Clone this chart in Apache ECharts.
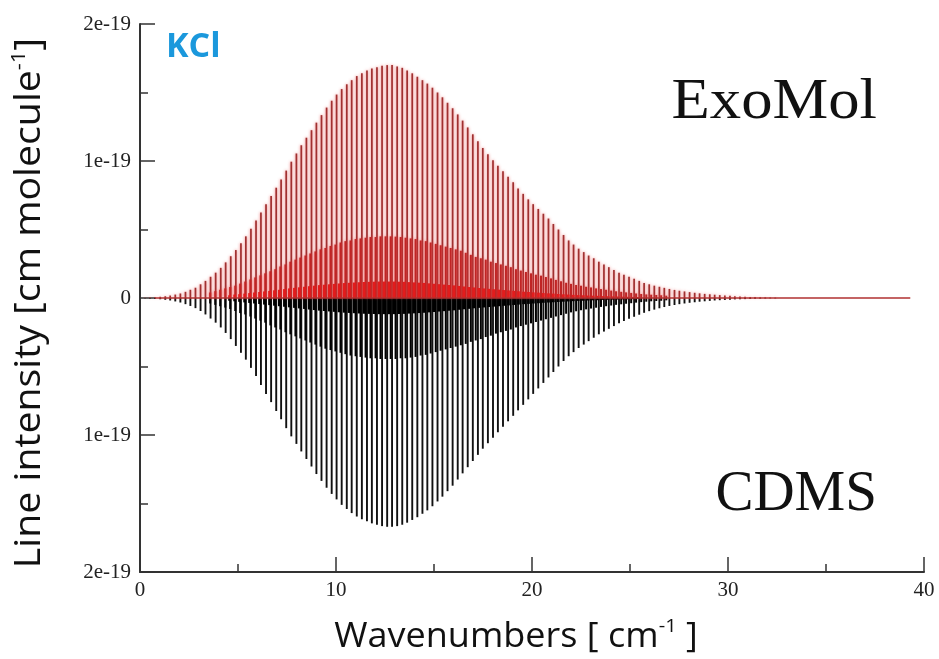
<!DOCTYPE html>
<html>
<head>
<meta charset="utf-8">
<title>KCl line intensities</title>
<script src="https://cdn.jsdelivr.net/npm/echarts@6/dist/echarts.min.js"></script>
<style>
  html, body { margin: 0; padding: 0; background: #fff; }
  #chart { width: 939px; height: 659px; }
</style>
</head>
<body>
<div id="chart"></div>
<script>
// wavenumbers (cm-1) of the ground-state rotational lines
const mainPos = [
  0.26, 0.51, 0.77, 1.03, 1.29, 1.54, 1.80, 2.06, 2.32, 2.57,
  2.83, 3.09, 3.34, 3.60, 3.86, 4.12, 4.37, 4.63, 4.89, 5.15,
  5.40, 5.66, 5.92, 6.17, 6.43, 6.69, 6.95, 7.20, 7.46, 7.72,
  7.98, 8.23, 8.49, 8.75, 9.00, 9.26, 9.52, 9.78, 10.03, 10.29,
  10.55, 10.80, 11.06, 11.32, 11.58, 11.83, 12.09, 12.35, 12.61, 12.86,
  13.12, 13.38, 13.63, 13.89, 14.15, 14.41, 14.66, 14.92, 15.18, 15.43,
  15.69, 15.95, 16.21, 16.46, 16.72, 16.98, 17.24, 17.49, 17.75, 18.01,
  18.26, 18.52, 18.78, 19.04, 19.29, 19.55, 19.81, 20.06, 20.32, 20.58,
  20.84, 21.09, 21.35, 21.61, 21.87, 22.12, 22.38, 22.64, 22.89, 23.15,
  23.41, 23.67, 23.92, 24.18, 24.44, 24.69, 24.95, 25.21, 25.47, 25.72,
  25.98, 26.24, 26.50, 26.75, 27.01, 27.27, 27.52, 27.78, 28.04, 28.30,
  28.55, 28.81, 29.07, 29.32, 29.58, 29.84, 30.10, 30.35, 30.61, 30.87,
  31.13, 31.38, 31.64, 31.90, 32.15, 32.41
];
// intensities in units of 1e-19 cm/molecule
const exomolMain = [
  0.002, 0.004, 0.006, 0.009, 0.013, 0.018, 0.025, 0.033, 0.045, 0.060,
  0.075, 0.100, 0.125, 0.155, 0.185, 0.22, 0.26, 0.305, 0.35, 0.40,
  0.45, 0.505, 0.565, 0.625, 0.685, 0.745, 0.805, 0.865, 0.93, 0.995,
  1.055, 1.115, 1.17, 1.225, 1.28, 1.335, 1.39, 1.44, 1.485, 1.525,
  1.56, 1.59, 1.62, 1.64, 1.66, 1.675, 1.685, 1.695, 1.70, 1.70,
  1.69, 1.68, 1.66, 1.64, 1.615, 1.59, 1.565, 1.535, 1.50, 1.465,
  1.425, 1.385, 1.34, 1.295, 1.245, 1.195, 1.145, 1.095, 1.05, 1.005,
  0.965, 0.925, 0.885, 0.845, 0.80, 0.76, 0.72, 0.685, 0.65, 0.615,
  0.58, 0.54, 0.50, 0.46, 0.42, 0.39, 0.36, 0.335, 0.31, 0.29,
  0.265, 0.245, 0.225, 0.205, 0.185, 0.17, 0.155, 0.14, 0.125, 0.11,
  0.10, 0.09, 0.082, 0.074, 0.066, 0.059, 0.053, 0.048, 0.043, 0.038,
  0.034, 0.030, 0.027, 0.024, 0.021, 0.018, 0.016, 0.013, 0.011, 0.010,
  0.008, 0.007, 0.006, 0.005, 0.004, 0.003
];
const cdmsMain = [
  0.002, 0.004, 0.006, 0.009, 0.013, 0.018, 0.025, 0.033, 0.045, 0.058,
  0.074, 0.095, 0.12, 0.15, 0.18, 0.215, 0.255, 0.30, 0.35, 0.40,
  0.45, 0.51, 0.57, 0.635, 0.70, 0.76, 0.825, 0.885, 0.95, 1.01,
  1.065, 1.12, 1.175, 1.23, 1.285, 1.335, 1.385, 1.43, 1.47, 1.51,
  1.54, 1.57, 1.595, 1.615, 1.63, 1.645, 1.655, 1.665, 1.67, 1.67,
  1.665, 1.655, 1.64, 1.62, 1.60, 1.575, 1.55, 1.52, 1.485, 1.45,
  1.41, 1.37, 1.325, 1.28, 1.235, 1.19, 1.145, 1.10, 1.06, 1.02,
  0.98, 0.94, 0.90, 0.86, 0.82, 0.78, 0.74, 0.70, 0.66, 0.62,
  0.58, 0.54, 0.50, 0.46, 0.425, 0.395, 0.365, 0.34, 0.315, 0.29,
  0.265, 0.245, 0.225, 0.205, 0.185, 0.168, 0.152, 0.137, 0.122, 0.108,
  0.096, 0.085, 0.075, 0.066, 0.058, 0.051, 0.045, 0.040, 0.035, 0.031,
  0.027, 0.024, 0.021, 0.018, 0.016, 0.014, 0.012, 0.010, 0.009, 0.008,
  0.007, 0.006, 0.005, 0.004, 0.003, 0.003
];

// first vibrationally excited lines
const v1Pos = [
  3.58, 3.84, 4.09, 4.35, 4.60, 4.86, 5.11, 5.37, 5.63, 5.88,
  6.14, 6.39, 6.65, 6.90, 7.16, 7.42, 7.67, 7.93, 8.18, 8.44,
  8.69, 8.95, 9.21, 9.46, 9.72, 9.97, 10.23, 10.48, 10.74, 11.00,
  11.25, 11.51, 11.76, 12.02, 12.27, 12.53, 12.79, 13.04, 13.30, 13.55,
  13.81, 14.06, 14.32, 14.58, 14.83, 15.09, 15.34, 15.60, 15.85, 16.11,
  16.37, 16.62, 16.88, 17.13, 17.39, 17.64, 17.90, 18.16, 18.41, 18.67,
  18.92, 19.18, 19.43, 19.69, 19.95, 20.20, 20.46, 20.71, 20.97, 21.22,
  21.48, 21.74, 21.99, 22.25, 22.50, 22.76, 23.01, 23.27, 23.52, 23.78,
  24.04, 24.29, 24.55, 24.80, 25.06, 25.31, 25.57, 25.83, 26.08, 26.34,
  26.59, 26.85
];
const exomolV1 = [
  0.04, 0.05, 0.06, 0.07, 0.08, 0.09, 0.105, 0.12, 0.135, 0.15,
  0.165, 0.18, 0.195, 0.21, 0.23, 0.245, 0.265, 0.28, 0.295, 0.31,
  0.325, 0.34, 0.355, 0.365, 0.38, 0.39, 0.405, 0.415, 0.42, 0.43,
  0.435, 0.44, 0.445, 0.445, 0.45, 0.45, 0.45, 0.448, 0.445, 0.44,
  0.435, 0.43, 0.42, 0.415, 0.405, 0.395, 0.385, 0.375, 0.365, 0.355,
  0.345, 0.33, 0.315, 0.30, 0.29, 0.28, 0.265, 0.255, 0.245, 0.235,
  0.225, 0.21, 0.20, 0.19, 0.18, 0.17, 0.163, 0.153, 0.143, 0.132,
  0.122, 0.111, 0.103, 0.095, 0.089, 0.082, 0.077, 0.070, 0.065, 0.060,
  0.054, 0.049, 0.045, 0.041, 0.037, 0.033, 0.029, 0.026, 0.024, 0.022,
  0.020, 0.017
];
const cdmsV1 = [
  0.04, 0.05, 0.06, 0.07, 0.08, 0.095, 0.11, 0.12, 0.135, 0.15,
  0.165, 0.18, 0.20, 0.215, 0.23, 0.25, 0.265, 0.28, 0.295, 0.31,
  0.325, 0.34, 0.355, 0.37, 0.38, 0.39, 0.40, 0.41, 0.42, 0.425,
  0.43, 0.435, 0.44, 0.44, 0.445, 0.445, 0.445, 0.445, 0.44, 0.44,
  0.435, 0.43, 0.42, 0.415, 0.405, 0.395, 0.385, 0.375, 0.365, 0.355,
  0.345, 0.335, 0.32, 0.31, 0.30, 0.285, 0.275, 0.26, 0.25, 0.24,
  0.23, 0.215, 0.205, 0.195, 0.185, 0.175, 0.165, 0.155, 0.145, 0.135,
  0.125, 0.115, 0.105, 0.097, 0.090, 0.083, 0.077, 0.071, 0.065, 0.060,
  0.055, 0.050, 0.046, 0.042, 0.038, 0.034, 0.030, 0.027, 0.024, 0.022,
  0.020, 0.017
];

// second vibrationally excited lines
const v2Pos = [
  4.57, 4.83, 5.08, 5.34, 5.59, 5.84, 6.10, 6.35, 6.61, 6.86,
  7.11, 7.37, 7.62, 7.88, 8.13, 8.39, 8.64, 8.89, 9.15, 9.40,
  9.66, 9.91, 10.16, 10.42, 10.67, 10.93, 11.18, 11.43, 11.69, 11.94,
  12.20, 12.45, 12.71, 12.96, 13.21, 13.47, 13.72, 13.98, 14.23, 14.48,
  14.74, 14.99, 15.25, 15.50, 15.75, 16.01, 16.26, 16.52, 16.77, 17.02,
  17.28, 17.53, 17.79, 18.04, 18.30, 18.55, 18.80, 19.06, 19.31, 19.57,
  19.82, 20.07, 20.33, 20.58, 20.84, 21.09, 21.34, 21.60, 21.85, 22.11,
  22.36, 22.62, 22.87, 23.12, 23.38, 23.63, 23.89, 24.14, 24.39, 24.65,
  24.90, 25.16, 25.41
];
const exomolV2 = [
  0.020, 0.025, 0.028, 0.032, 0.036, 0.040, 0.044, 0.048, 0.052, 0.056,
  0.060, 0.065, 0.070, 0.074, 0.078, 0.082, 0.086, 0.090, 0.094, 0.097,
  0.100, 0.103, 0.106, 0.109, 0.111, 0.113, 0.115, 0.117, 0.118, 0.119,
  0.120, 0.120, 0.120, 0.120, 0.119, 0.118, 0.116, 0.114, 0.112, 0.110,
  0.107, 0.104, 0.101, 0.098, 0.095, 0.092, 0.088, 0.084, 0.080, 0.077,
  0.073, 0.070, 0.067, 0.064, 0.061, 0.058, 0.055, 0.052, 0.049, 0.046,
  0.044, 0.041, 0.039, 0.036, 0.034, 0.032, 0.029, 0.027, 0.025, 0.023,
  0.021, 0.020, 0.018, 0.017, 0.016, 0.014, 0.013, 0.012, 0.011, 0.010,
  0.009, 0.008, 0.007
];
const cdmsV2 = [
  0.020, 0.024, 0.028, 0.032, 0.036, 0.040, 0.044, 0.048, 0.052, 0.056,
  0.060, 0.064, 0.068, 0.072, 0.076, 0.080, 0.084, 0.088, 0.092, 0.095,
  0.098, 0.101, 0.104, 0.107, 0.109, 0.111, 0.113, 0.115, 0.116, 0.117,
  0.118, 0.118, 0.118, 0.118, 0.117, 0.116, 0.114, 0.112, 0.110, 0.108,
  0.105, 0.102, 0.099, 0.096, 0.093, 0.090, 0.086, 0.082, 0.079, 0.075,
  0.072, 0.069, 0.066, 0.063, 0.060, 0.057, 0.054, 0.051, 0.048, 0.045,
  0.043, 0.040, 0.038, 0.035, 0.033, 0.031, 0.029, 0.027, 0.025, 0.023,
  0.021, 0.020, 0.018, 0.017, 0.016, 0.014, 0.013, 0.012, 0.011, 0.010,
  0.009, 0.008, 0.007
];

// ExoMol line list is drawn as a continuous trace out to here
const exomolRange = [0.77, 39.3];
const xTicks = [0, 10, 20, 30, 40];
const yTicks = [-2, -1, 0, 1, 2];

const chart = echarts.init(document.getElementById('chart'), null, { renderer: 'canvas' });

function pairs(pos, vals, sign) {
  return pos.map((x, i) => [x, sign * vals[i]]);
}

function sticks(name, data, color, width, glow) {
  return {
    name: name,
    type: 'custom',
    data: data,
    encode: { x: 0, y: 1 },
    clip: true,
    silent: true,
    renderItem: function (params, api) {
      const x = api.value(0);
      const p0 = api.coord([x, 0]);
      const p1 = api.coord([x, api.value(1)]);
      return {
        type: 'line',
        shape: { x1: p0[0], y1: p0[1], x2: p1[0], y2: p1[1] },
        style: {
          stroke: color, lineWidth: width,
          shadowBlur: glow ? 3 : 0, shadowColor: glow || 'transparent'
        }
      };
    }
  };
}

// axis title as rich text, with a -1 superscript; sx stretches along the text
function label(text, x, y, size, rot, sx) {
  const rich = {
    a: { fontFamily: 'Open Sans', fontSize: size, fill: '#111', lineHeight: size + 6 },
    s: { fontFamily: 'Open Sans', fontSize: Math.round(size * 0.55), fill: '#111', verticalAlign: 'top', lineHeight: size + 6 }
  };
  return {
    type: 'text', x: x, y: y, rotation: rot || 0, scaleX: sx || 1,
    style: {
      text: text, rich: rich,
      align: 'center', verticalAlign: 'middle',
      textAlign: 'center', textVerticalAlign: 'middle'
    }
  };
}

const axisColor = '#333';
const option = {
  backgroundColor: '#fff',
  animation: false,
  grid: { left: 140, right: 15, top: 24, bottom: 87 },
  xAxis: {
    type: 'value',
    min: xTicks[0],
    max: xTicks[xTicks.length - 1],
    interval: 10,
    axisLine: { onZero: false, lineStyle: { color: axisColor, width: 2 } },
    axisTick: { inside: true, length: 15, lineStyle: { color: axisColor, width: 1.5 } },
    minorTick: { show: true, splitNumber: 2, length: 8, lineStyle: { color: axisColor, width: 1.5 } },
    splitLine: { show: false },
    axisLabel: { fontFamily: 'Liberation Serif', fontSize: 21, color: '#222', margin: 8 }
  },
  yAxis: {
    type: 'value',
    min: yTicks[0],
    max: yTicks[yTicks.length - 1],
    interval: 1,
    axisLine: { show: true, onZero: false, lineStyle: { color: axisColor, width: 2 } },
    axisTick: { show: true, inside: true, length: 15, lineStyle: { color: axisColor, width: 1.5 } },
    minorTick: { show: true, splitNumber: 2, length: 8, lineStyle: { color: axisColor, width: 1.5 } },
    splitLine: { show: false },
    axisLabel: {
      fontFamily: 'Liberation Serif', fontSize: 21, color: '#222', margin: 9,
      formatter: v => v === 0 ? '0' : Math.abs(v) + 'e-19'
    }
  },
  series: [
    sticks('CDMS', pairs(mainPos, cdmsMain, -1), '#111', 1.9),
    sticks('CDMS v1', pairs(v1Pos, cdmsV1, -1), '#000', 2),
    sticks('CDMS v2', pairs(v2Pos, cdmsV2, -1), '#000', 2.8),
    {
      name: 'ExoMol base',
      type: 'line',
      data: exomolRange.map(x => [x, 0]),
      symbol: 'none',
      silent: true,
      lineStyle: { color: '#b03030', width: 1.5 }
    },
    sticks('ExoMol', pairs(mainPos, exomolMain, 1), '#a03030', 1.7, 'rgba(235,90,90,0.9)'),
    sticks('ExoMol v1', pairs(v1Pos, exomolV1, 1), '#c02424', 2, 'rgba(240,60,60,0.8)'),
    sticks('ExoMol v2', pairs(v2Pos, exomolV2, 1), '#e31c1c', 2.8)
  ],
  graphic: [
    {
      type: 'text', x: 166, y: 47,
      style: {
        text: 'KCl', fontFamily: 'Open Sans', fontWeight: 'bold', fontSize: 34, fill: '#1b98dc',
        verticalAlign: 'middle', textVerticalAlign: 'middle'
      }
    },
    {
      type: 'text', x: 877, y: 75, scaleX: 1.1, originX: 0,
      style: {
        text: 'ExoMol', fontFamily: 'Liberation Serif', fontSize: 57, fill: '#111',
        align: 'right', textAlign: 'right', verticalAlign: 'top', textVerticalAlign: 'top'
      }
    },
    {
      type: 'text', x: 877, y: 467,
      style: {
        text: 'CDMS', fontFamily: 'Liberation Serif', fontSize: 57, fill: '#111',
        align: 'right', textAlign: 'right', verticalAlign: 'top', textVerticalAlign: 'top'
      }
    },
    label('{a|Wavenumbers [ cm}{s|-1}{a| ]}', 516, 637, 34, 0, 1.06),
    label('{a|Line intensity [cm molecule}{s|-1}{a|]}', 30, 303, 36, Math.PI / 2, 1.09)
  ]
};

chart.setOption(option);
</script>
</body>
</html>
